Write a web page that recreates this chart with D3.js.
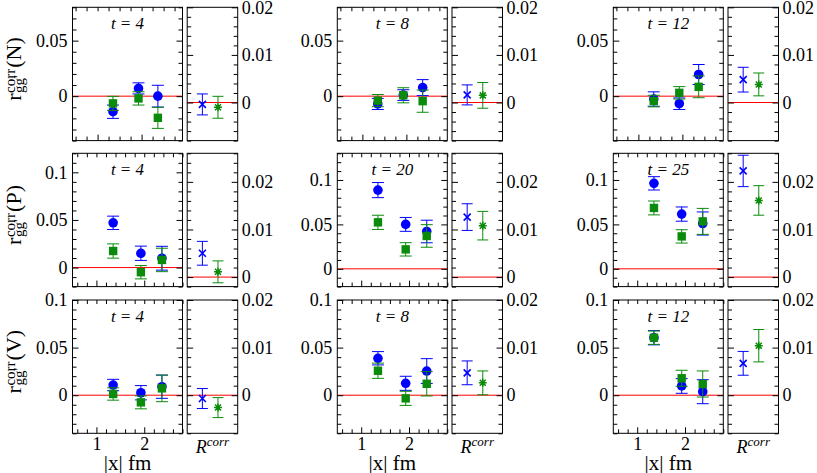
<!DOCTYPE html>
<html><head>
<meta charset="utf-8">
<title>r_gg' corr panels</title>
<script src="https://d3js.org/d3.v7.min.js"></script>
<style>
  body { margin: 0; background: #fff; }
  svg { display: block; font-family: "Liberation Serif", "Times New Roman", serif; }
  .tick line { stroke: #000; }
</style>
</head>
<body>
<svg id="chart" width="817" height="473"></svg>
<script>
// ---- data, indexed [row][column] ----
const channels = ["N", "P", "V"];
const tValues = [[4, 8, 12], [4, 20, 25], [4, 8, 12]];
const sepX = [1.35, 1.93, 2.37];               // |x| in fm
const xTickLabels = [1, 2];

// blue circles
const circleVal = [
  [[-0.014, 0.007, 0.000], [-0.007, 0.001, 0.0077], [-0.0026, -0.0068, 0.0195]],
  [[0.047, 0.015, 0.0098], [0.0886, 0.05, 0.042], [0.0962, 0.0616, 0.051]],
  [[0.0107, 0.0026, 0.0089], [0.0388, 0.0125, 0.0254], [0.0604, 0.0097, 0.0037]]
];
const circleErr = [
  [[0.006, 0.005, 0.0098], [0.005, 0.0048, 0.0072], [0.0065, 0.0052, 0.009]],
  [[0.007, 0.0075, 0.0125], [0.0085, 0.0078, 0.0127], [0.0075, 0.008, 0.013]],
  [[0.006, 0.0075, 0.0122], [0.007, 0.0074, 0.013], [0.0075, 0.0077, 0.0126]]
];
// green squares
const squareVal = [
  [[-0.0065, -0.002, -0.0195], [-0.004, 0.0008, -0.0045], [-0.0044, 0.003, 0.0084]],
  [[0.0174, -0.0049, 0.008], [0.0523, 0.0219, 0.037], [0.0685, 0.0365, 0.0534]],
  [[0.0013, -0.0075, 0.0072], [0.0257, -0.0033, 0.012], [0.0604, 0.0178, 0.0118]]
];
const squareErr = [
  [[0.0063, 0.006, 0.0095], [0.0055, 0.0068, 0.01], [0.0052, 0.0056, 0.0098]],
  [[0.0075, 0.007, 0.0123], [0.008, 0.0075, 0.0127], [0.0078, 0.0075, 0.0146]],
  [[0.0065, 0.0068, 0.014], [0.008, 0.0074, 0.0128], [0.007, 0.0084, 0.0137]]
];
// R^corr side panels: blue cross, green star
const crossVal = [[-0.0004, 0.0016, 0.0048], [0.005, 0.0126, 0.0223], [-0.0007, 0.0047, 0.0067]];
const crossErr = [[0.0022, 0.0021, 0.0026], [0.0025, 0.0028, 0.0033], [0.0021, 0.0025, 0.0025]];
const starVal = [[-0.001, 0.0015, 0.0038], [0.0011, 0.0108, 0.0161], [-0.0026, 0.0026, 0.0104]];
const starErr = [[0.0023, 0.0027, 0.0024], [0.0023, 0.003, 0.0031], [0.0021, 0.0025, 0.0034]];

// axis ranges
const mainXDomain = [[0.43, 2.93], [0.5, 2.8], [0.5, 2.8]];
const mainXMinor = [0.25, 0.2, 0.2];
const mainYDomain = [
  [[-0.04, 0.08], [-0.04, 0.08], [-0.04, 0.08]],
  [[-0.02, 0.12], [-0.02, 0.13], [-0.02, 0.13]],
  [[-0.04, 0.1], [-0.04, 0.1], [-0.04, 0.1]]
];
const sideYDomain = [[-0.008, 0.02], [-0.002, 0.026], [-0.008, 0.02]];

// ---- layout ----
const svg = d3.select("#chart");
const serif = "'Liberation Serif', 'Times New Roman', serif";
const colLeft = [72.5, 337.3, 613.3];
const rowTop = [7.3, 153.3, 300];
const mainW = 110, sideW = 50.5, sideGap = 4.7, panelH = 133.3;
const blue = "#0000ff", green = "#0b8b0b", red = "#ff0000";

// multiples of step inside a domain
function multiples(dom, step) {
  const lo = Math.ceil(dom[0] / step - 1e-6), hi = Math.floor(dom[1] / step + 1e-6);
  return d3.range(lo, hi + 1).map(k => +(k * step).toFixed(5));
}
const fmt = d => d === 0 ? "0" : String(+d.toFixed(4));

// axis groups: serif labels, no domain path
function styleAxis(a) {
  a.attr("font-family", serif).attr("font-size", 18);
  a.select(".domain").remove();
}

function yTicks(g, scale, majorStep, minorStep, w, labelSide) {
  const major = multiples(scale.domain(), majorStep);
  const minor = multiples(scale.domain(), minorStep).filter(v => !major.some(m => Math.abs(m - v) < 1e-9));
  [["left", 0], ["right", w]].forEach(([side, tx]) => {
    const mk = side === "left" ? d3.axisLeft : d3.axisRight;
    g.append("g").attr("transform", `translate(${tx},0)`)
      .call(mk(scale).tickValues(minor).tickSize(-4).tickFormat(""))
      .call(styleAxis);
    g.append("g").attr("transform", `translate(${tx},0)`)
      .call(mk(scale).tickValues(major).tickSizeInner(-6).tickSizeOuter(0)
        .tickPadding(side === "left" ? 5 : 4)
        .tickFormat(side === labelSide ? fmt : ""))
      .call(styleAxis);
  });
}

function errorBars(g, xs, vals, errs, ys, cap, color) {
  vals.forEach((v, i) => {
    const x = xs[i];
    const lo = ys(v - errs[i]), hi = ys(v + errs[i]);
    g.append("line").attr("x1", x).attr("x2", x).attr("y1", lo).attr("y2", hi)
      .attr("stroke", color).attr("stroke-width", 1);
    [lo, hi].forEach(yy => g.append("line").attr("x1", x - cap).attr("x2", x + cap)
      .attr("y1", yy).attr("y2", yy).attr("stroke", color).attr("stroke-width", 1));
  });
}

channels.forEach((ch, r) => {
  tValues[r].forEach((t, c) => {
    const x0 = colLeft[c], y0 = rowTop[r];

    // ---- main panel ----
    const xs = d3.scaleLinear().domain(mainXDomain[r]).range([0, mainW]);
    const ys = d3.scaleLinear().domain(mainYDomain[r][c]).range([panelH, 0]);
    const main = svg.append("g").attr("transform", `translate(${x0},${y0})`);

    main.append("line").attr("x1", 0).attr("x2", mainW)
      .attr("y1", ys(0)).attr("y2", ys(0)).attr("stroke", red).attr("stroke-width", 1);

    const px = sepX.map(d => xs(d));
    errorBars(main, px, circleVal[r][c], circleErr[r][c], ys, 6, blue);
    main.selectAll(null).data(circleVal[r][c]).join("circle")
      .attr("cx", (d, i) => px[i]).attr("cy", d => ys(d)).attr("r", 4.8).attr("fill", blue);
    errorBars(main, px, squareVal[r][c], squareErr[r][c], ys, 6, green);
    main.selectAll(null).data(squareVal[r][c]).join("rect")
      .attr("x", (d, i) => px[i] - 4.2).attr("y", d => ys(d) - 4.2)
      .attr("width", 8.4).attr("height", 8.4).attr("fill", green);

    main.append("rect").attr("width", mainW).attr("height", panelH)
      .attr("fill", "none").attr("stroke", "#000").attr("stroke-width", 1);

    yTicks(main, ys, 0.05, 0.01, mainW, "left");

    // x ticks, bottom and top
    const xMajor = multiples(xs.domain(), 1);
    const xMinor = multiples(xs.domain(), mainXMinor[r]).filter(v => !xMajor.some(m => Math.abs(m - v) < 1e-9));
    main.append("g").attr("transform", `translate(0,${panelH})`)
      .call(d3.axisBottom(xs).tickValues(xMinor).tickSize(-4).tickFormat(""))
      .call(styleAxis);
    main.append("g").attr("transform", `translate(0,${panelH})`)
      .call(d3.axisBottom(xs).tickValues(r === 2 ? xTickLabels : xMajor)
        .tickSizeInner(-6).tickSizeOuter(0).tickPadding(4)
        .tickFormat(r === 2 ? d3.format("d") : ""))
      .call(styleAxis);
    main.append("g")
      .call(d3.axisTop(xs).tickValues(xMinor.concat(xMajor)).tickSize(-4).tickFormat(""))
      .call(styleAxis);

    main.append("text").attr("x", mainW / 2).attr("y", 22)
      .attr("text-anchor", "middle").attr("font-style", "italic").attr("font-size", 17)
      .text(`t = ${t}`);

    if (r === 2) {
      main.append("text").attr("x", mainW / 2).attr("y", panelH + 36.5)
        .attr("text-anchor", "middle").attr("font-size", 21).text("|x| fm");
    }

    // ---- R^corr side panel ----
    const sx = d3.scalePoint().domain(["cross", "star"]).range([0, sideW]).padding(1.12).align(0.435);
    const sy = d3.scaleLinear().domain(sideYDomain[r]).range([panelH, 0]);
    const side = svg.append("g").attr("transform", `translate(${x0 + mainW + sideGap},${y0})`);

    side.append("line").attr("x1", 0).attr("x2", sideW)
      .attr("y1", sy(0)).attr("y2", sy(0)).attr("stroke", red).attr("stroke-width", 1);

    errorBars(side, [sx("cross")], [crossVal[r][c]], [crossErr[r][c]], sy, 5.5, blue);
    side.append("path")
      .attr("transform", `translate(${sx("cross")},${sy(crossVal[r][c])})`)
      .attr("d", "M-3.5,-3.5L3.5,3.5M-3.5,3.5L3.5,-3.5")
      .attr("stroke", blue).attr("stroke-width", 1.6).attr("fill", "none");

    errorBars(side, [sx("star")], [starVal[r][c]], [starErr[r][c]], sy, 5.5, green);
    side.append("path")
      .attr("transform", `translate(${sx("star")},${sy(starVal[r][c])})`)
      .attr("d", "M-4,0H4M0,-4V4M-3,-3L3,3M-3,3L3,-3")
      .attr("stroke", green).attr("stroke-width", 1.5).attr("fill", "none");

    side.append("rect").attr("width", sideW).attr("height", panelH)
      .attr("fill", "none").attr("stroke", "#000").attr("stroke-width", 1);

    yTicks(side, sy, 0.01, 0.002, sideW, "right");

    if (r === 2) {
      const rt = side.append("text").attr("x", sideW / 2).attr("y", panelH + 20)
        .attr("text-anchor", "middle").attr("font-style", "italic");
      rt.append("tspan").attr("font-size", 18).text("R");
      rt.append("tspan").attr("font-size", 13).attr("dy", -7).text("corr");
    }
  });

  // ---- y label: r_gg'^corr(X) ----
  const cy = rowTop[r] + panelH / 2 - 5;
  const lab = svg.append("g").attr("transform", `translate(21,${cy}) rotate(-90)`);
  const inner = lab.append("g");
  const p1 = inner.append("text").attr("font-size", 22).text("r");
  const w1 = p1.node().getComputedTextLength();
  const sup = inner.append("text").attr("x", w1 + 0.5).attr("y", -6).attr("font-size", 15).text("corr");
  const sub = inner.append("text").attr("x", w1 + 0.5).attr("y", 3).attr("font-size", 15).text("gg'");
  const w2 = Math.max(sup.node().getComputedTextLength(), sub.node().getComputedTextLength());
  const p3 = inner.append("text").attr("x", w1 + w2 + 1.5).attr("font-size", 22).text(`(${ch})`);
  const total = w1 + w2 + 1.5 + p3.node().getComputedTextLength();
  inner.attr("transform", `translate(${-total / 2},0)`);
});
</script>
</body>
</html>
